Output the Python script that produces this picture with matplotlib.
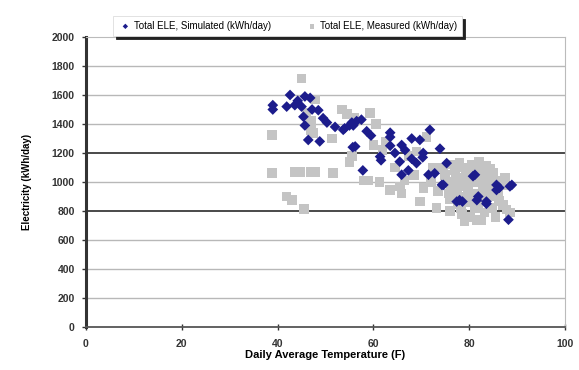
import matplotlib
matplotlib.use("Agg")
import matplotlib.pyplot as plt

plt.rcParams['font.family'] = ['Liberation Sans', 'DejaVu Sans']

# Daily average temperature (F) and electricity use (kWh/day)
sim_temp = [39, 39, 41.9, 42.6, 43.6, 44.2, 45, 45.4, 45.7, 45.7, 46.4, 46.8, 47.2,
            48.5, 48.8, 49.5, 50.3, 52, 53.7, 54, 55, 55.5, 55.8, 56.5, 57.5, 55.7,
            56.2, 57.8, 58.6, 59.5, 61.4, 61.6, 63.5, 63.5, 63.5, 64.5, 65.5, 65.9,
            65.9, 66.6, 67.3, 68, 68, 69, 69.7, 70.3, 70.4, 71.5, 71.8, 72.8, 73.9,
            74.3, 74.6, 75.3, 77.4, 78, 78.6, 80.8, 81.2, 81.6, 81.9, 83.6, 83.6,
            85.7, 85.7, 86.3, 88.5, 88.9, 88.2]
sim_kwh = [1530, 1500, 1520, 1600, 1530, 1560, 1520, 1450, 1590, 1390, 1290, 1580, 1500,
           1495, 1280, 1440, 1410, 1380, 1360, 1370, 1390, 1410, 1390, 1420, 1430, 1240,
           1245, 1080, 1350, 1320, 1175, 1150, 1340, 1310, 1250, 1200, 1140, 1255,
           1050, 1220, 1080, 1300, 1160, 1130, 1290, 1170, 1200, 1050, 1360, 1060, 1230,
           980, 980, 1130, 865, 875, 865, 1040, 1050, 875, 900, 865, 850,
           980, 945, 960, 970, 980, 740]

meas_temp = [38.8, 38.8, 41.9, 43, 43.6, 44.7, 45, 45.5, 47, 47.8, 51.6, 47, 47.4, 47,
             47.8, 46, 51.3, 53.4, 54.5, 56, 59.3, 60.5, 55, 55.6, 58, 59, 60, 61.3,
             61.9, 62.5, 63.5, 64.5, 65.5, 65.9, 66.5, 67.5, 68.5, 69, 69.7, 70.5, 71.1,
             72.4, 73.2, 72, 73.5,
             74.5, 75, 75.5, 75.8, 76, 76.5, 77, 77.2, 77.5, 77.8, 78, 78.3, 78.5, 79,
             79.2, 79.5, 79.8, 80, 80.2, 80.5, 80.8, 81, 81.2, 81.5, 82, 82.2, 82.5, 82.8,
             83, 83.2, 83.5, 84, 84.2, 84.5, 84.8, 85, 85.5, 86, 86.5, 87, 87.5, 87.8, 87,
             88.5, 76, 79, 82.5, 85.5,
             76.8, 78.8, 80.6, 82.4, 84.3, 77.6, 79.6, 81.8, 83.8, 85.2, 76.2, 78.2, 80.4,
             83.4, 86.2]
meas_kwh = [1325, 1060, 900, 875, 1070, 1070, 1715, 815, 1070, 1070, 1060, 1360, 1340, 1420,
            1570, 1480, 1300, 1500, 1470, 1440, 1475, 1400, 1140, 1180, 1010, 1010, 1255, 1000,
            1220, 1280, 945, 1100, 970, 920, 1010, 1180, 1050, 1210, 865, 960, 1310,
            1100, 820, 1000, 940,
            1100, 1050, 1000, 920, 880, 1120, 1080, 1020, 960, 900, 1130, 820, 780, 1100,
            1050, 990, 940, 860, 760, 1120, 1000, 920, 820, 740, 1140, 1080, 1010, 950,
            890, 790, 1110, 1040, 980, 910, 820, 1060, 1000, 930, 1010, 980, 1030, 810, 840,
            790, 800, 730, 740, 760,
            1000, 1030, 1060, 1050, 1090, 850, 880, 840, 950, 900, 950, 970, 900,
            1000, 870]

sim_label = "Total ELE, Simulated (kWh/day)"
meas_label = "Total ELE, Measured (kWh/day)"
y_ticks = [0, 200, 400, 600, 800, 1000, 1200, 1400, 1600, 1800, 2000]
x_ticks = [0, 20, 40, 60, 80, 100]


def main():
	fig = plt.figure(figsize=(5.79, 3.70), dpi=100)
	ax = fig.add_axes([0.1485, 0.1162, 0.8273, 0.7838])

	# gridlines, two of them come out darker in the original
	for v in y_ticks[1:-1]:
		dark = v in (800, 1200)
		ax.axhline(v, color="#3a3a3a" if dark else "#b8b8b8",
			linewidth=1.3 if dark else 1.0, zorder=0)

	ax.scatter(meas_temp, meas_kwh, marker="s", s=48, color="#c4c4c4",
		edgecolors="none", label=meas_label, zorder=2)
	ax.scatter(sim_temp, sim_kwh, marker="D", s=30, color="#1c1c8c",
		edgecolors="none", label=sim_label, zorder=3)

	ax.set_xlim(0, 100)
	ax.set_ylim(0, 2000)
	ax.set_xticks(x_ticks)
	ax.set_yticks(y_ticks)
	ax.tick_params(axis="x", direction="inout", length=5, width=1, pad=6,
		labelsize=7.5, colors="#333333")
	ax.tick_params(axis="y", direction="out", length=3, width=1, pad=5,
		labelsize=7.5, colors="#333333")
	for lab in ax.get_xticklabels() + ax.get_yticklabels():
		lab.set_fontweight("bold")

	ax.spines["left"].set_color("#333333")
	ax.spines["left"].set_linewidth(2.2)
	ax.spines["bottom"].set_color("#555555")
	ax.spines["bottom"].set_linewidth(1.3)
	ax.spines["top"].set_color("#bbbbbb")
	ax.spines["right"].set_color("#bbbbbb")

	ax.set_xlabel("Daily Average Temperature (F)", fontsize=8, fontweight="bold",
		labelpad=1)
	ax.set_ylabel("Electricity (kWh/day)", fontsize=7, fontweight="bold",
		labelpad=14)

	handles, labels = ax.get_legend_handles_labels()
	leg = fig.legend(handles[::-1], labels[::-1], loc="center",
		bbox_to_anchor=(0.497, 0.93), ncol=2, fontsize=7, markerscale=0.5,
		handletextpad=0.1, columnspacing=3.5, frameon=True, fancybox=False,
		shadow={"color": "#222222", "alpha": 1.0}, borderpad=0.5,
		borderaxespad=0, handlelength=1.5)
	leg.get_frame().set_edgecolor("#dddddd")
	leg.get_frame().set_linewidth(0.6)

	fig.savefig("out.png", dpi=100)


if __name__ == "__main__":
	main()
